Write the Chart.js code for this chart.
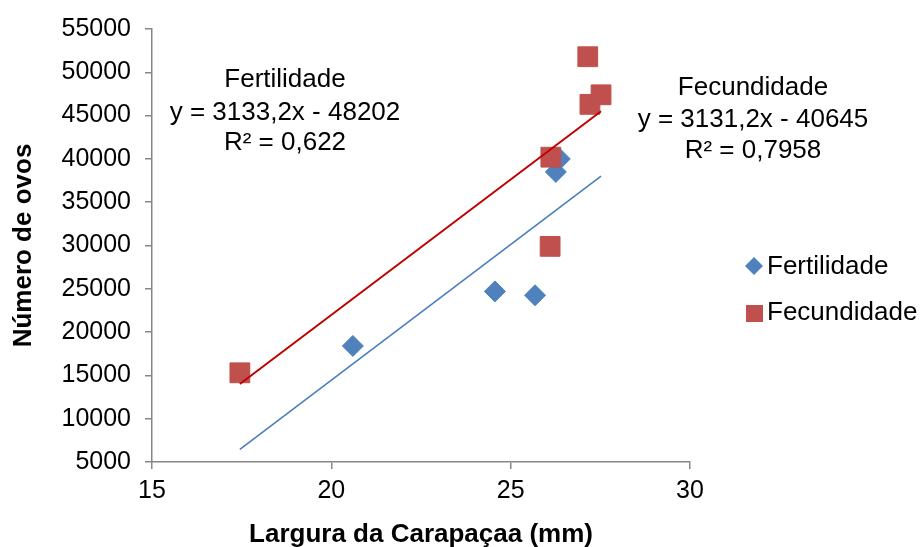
<!DOCTYPE html>
<html>
<head>
<meta charset="utf-8">
<script src="https://cdn.jsdelivr.net/npm/chart.js@4/dist/chart.umd.min.js"></script>
<style>
  html, body { margin: 0; padding: 0; background: #fff; }
</style>
</head>
<body>
<canvas id="eggChart" width="922" height="547"></canvas>
<script>
// Carapace width (mm) and number of eggs
var fertX = [20.6, 24.56, 25.68, 26.26, 26.37];
var fertY = [18400, 24700, 24250, 38500, 40000];
var fecX = [17.45, 26.1, 26.12, 27.15, 27.21, 27.52];
var fecY = [15300, 29900, 40200, 51800, 46300, 47400];
// trend line ends as drawn
var fertTrendX = [17.45, 27.52];
var fertTrendY = [6450, 38000];
var fecTrendX = [17.45, 27.52];
var fecTrendY = [14000, 45500];
var xTicks = [15, 20, 25, 30];
var yTicks = [5000, 10000, 15000, 20000, 25000, 30000, 35000, 40000, 45000, 50000, 55000];
var seriesNames = ["Fertilidade", "Fecundidade"];
var fertLabel = ["Fertilidade", "y = 3133,2x - 48202", "R² = 0,622"];
var fecLabel = ["Fecundidade", "y = 3131,2x - 40645", "R² = 0,7958"];

var BLUE = "#4F81BD";
var RED = "#C0504D";
var FONT = "'Liberation Sans', Arial, sans-serif";

function pts(xs, ys) {
  return xs.map(function (x, i) { return { x: x, y: ys[i] }; });
}

// equations + legend, drawn as text on the canvas
var extras = {
  id: "extras",
  afterDraw: function (chart) {
    var ctx = chart.ctx;
    ctx.save();
    ctx.fillStyle = "#000";
    ctx.font = "26px " + FONT;
    ctx.textAlign = "center";
    ctx.textBaseline = "middle";
    var lh = [80, 113, 143];
    fertLabel.forEach(function (t, i) { ctx.fillText(t, 285, lh[i]); });
    var rh = [88, 120, 151];
    fecLabel.forEach(function (t, i) { ctx.fillText(t, 753, rh[i]); });

    // legend
    ctx.textAlign = "left";
    ctx.fillStyle = BLUE;
    ctx.beginPath();
    ctx.moveTo(754, 257); ctx.lineTo(763, 266); ctx.lineTo(754, 275); ctx.lineTo(745, 266);
    ctx.closePath();
    ctx.fill();
    ctx.fillStyle = RED;
    ctx.fillRect(746, 305, 17, 17);
    ctx.fillStyle = "#000";
    ctx.fillText(seriesNames[0], 767, 267);
    ctx.fillText(seriesNames[1], 767, 313);
    ctx.restore();
  }
};

new Chart(document.getElementById("eggChart"), {
  type: "scatter",
  data: {
    datasets: [
      {
        label: seriesNames[0],
        data: pts(fertX, fertY),
        pointStyle: "rectRot",
        pointRadius: 10.5,
        pointHoverRadius: 10.5,
        backgroundColor: BLUE,
        borderColor: BLUE,
        borderWidth: 1,
        order: 4
      },
      {
        label: seriesNames[1],
        data: pts(fecX, fecY),
        pointStyle: "rect",
        pointRadius: 14,
        pointHoverRadius: 14,
        backgroundColor: RED,
        borderColor: RED,
        borderWidth: 1,
        order: 3
      },
      {
        type: "line",
        data: pts(fertTrendX, fertTrendY),
        borderColor: "#4A7EBB",
        borderWidth: 1.6,
        pointRadius: 0,
        fill: false,
        order: 2
      },
      {
        type: "line",
        data: pts(fecTrendX, fecTrendY),
        borderColor: "#C00000",
        borderWidth: 2,
        pointRadius: 0,
        fill: false,
        order: 1
      }
    ]
  },
  options: {
    responsive: false,
    animation: false,
    layout: { padding: { left: 0, top: 23, right: 232, bottom: 0 } },
    plugins: {
      legend: { display: false },
      tooltip: { enabled: false }
    },
    scales: {
      x: {
        type: "linear",
        min: 15,
        max: 30,
        afterBuildTicks: function (s) { s.ticks = xTicks.map(function (v) { return { value: v }; }); },
        afterFit: function (s) { s.height = 85; },
        grid: { drawOnChartArea: false, drawTicks: true, tickLength: 7, color: "#868686", lineWidth: 1.5 },
        border: { color: "#868686", width: 1.5 },
        ticks: {
          color: "#000",
          padding: 7,
          font: { family: FONT, size: 25 },
          callback: function (v) { return String(v); }
        },
        title: {
          display: true,
          text: "Largura da Carapaçaa (mm)",
          color: "#000",
          padding: 0,
          font: { family: FONT, size: 26, weight: "bold", lineHeight: 0.9 }
        }
      },
      y: {
        min: 5000,
        max: 55000,
        afterBuildTicks: function (s) { s.ticks = yTicks.map(function (v) { return { value: v }; }); },
        afterFit: function (s) { s.width = 152; },
        grid: { drawOnChartArea: false, drawTicks: true, tickLength: 7, color: "#868686", lineWidth: 1.5 },
        border: { color: "#868686", width: 1.5 },
        ticks: {
          color: "#000",
          padding: 14,
          font: { family: FONT, size: 25 },
          callback: function (v) { return String(v); }
        },
        title: {
          display: true,
          text: "Número de ovos",
          color: "#000",
          padding: { top: 8, bottom: 0 },
          font: { family: FONT, size: 26, weight: "bold" }
        }
      }
    }
  },
  plugins: [extras]
});
</script>
</body>
</html>
